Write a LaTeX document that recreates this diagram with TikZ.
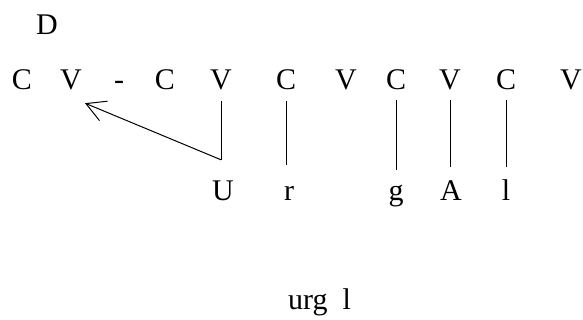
\documentclass[tikz,border=0pt]{standalone}
\usepackage{fontspec}
\setmainfont{Liberation Serif}
\usetikzlibrary{arrows.meta,calc}
\tikzset{
  lt/.style={font=\fontsize{30}{36}\selectfont, inner sep=0pt, anchor=base, text height=20pt, text depth=0pt},
  conn/.style={line width=1pt},
  arr/.style={line width=1pt, -{Straight Barb[length=19pt,width=21pt,line width=1pt]}}
}
\begin{document}
\begin{tikzpicture}[x=1pt,y=1pt]
\useasboundingbox (0,0) rectangle (583,320);
% top
\node[lt] (d) at (47,285) {D};
\node[lt] (t1) at (22,230) {C};
\node[lt] (t2) at (71,230) {V};
\node[lt] (t3) at (119,230) {-};
\node[lt] (t4) at (165,230) {C};
\node[lt] (t5) at (221,230) {V};
\node[lt] (t6) at (286,230) {C};
\node[lt] (t7) at (346,230) {V};
\node[lt] (t8) at (396,230) {C};
\node[lt] (t9) at (450,230) {V};
\node[lt] (t10) at (506,230) {C};
\node[lt] (t11) at (571,230) {V};
% bottom
\node[lt] (b1) at (223,119) {U};
\node[lt] (b2) at (289,119) {r};
\node[lt] (b3) at (396,119) {g};
\node[lt] (b4) at (451,119) {A};
\node[lt] (b5) at (506,119) {l};
\node[lt, anchor=base west] (cap) at (288,10) {urg\ \ l};
% connectors
\coordinate (corner) at ($(t5.south |- b1.north)+(0,21)$);
\draw[conn] ([yshift=-11pt]t5.south) -- (corner);
\draw[arr] (corner) -- ([xshift=14pt,yshift=-13pt]t2.south);
\draw[conn, shorten >=16pt] ([yshift=-11pt]t6.south) -- (t6.south |- b2.north);
\draw[conn, shorten >=11pt] ([yshift=-10pt]t8.south) -- (t8.south |- b3.north);
\draw[conn, shorten >=14pt] ([yshift=-10pt]t9.south) -- (t9.south |- b4.north);
\draw[conn, shorten >=14pt] ([yshift=-10pt]t10.south) -- (t10.south |- b5.north);
\end{tikzpicture}
\end{document}
